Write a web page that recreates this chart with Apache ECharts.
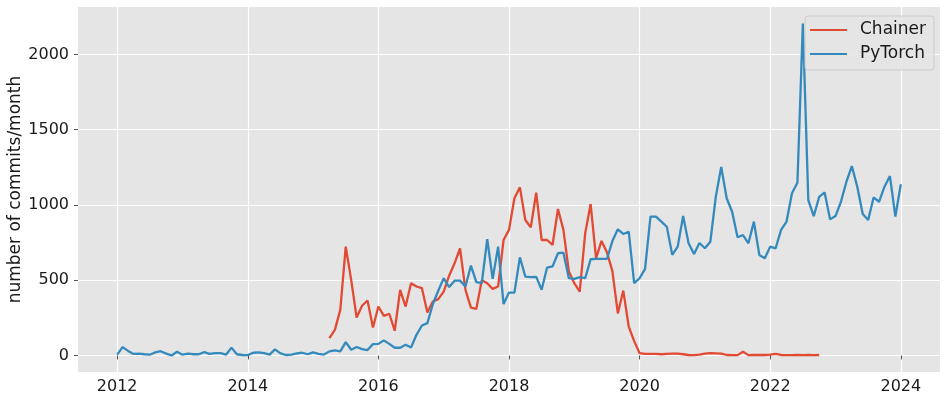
<!DOCTYPE html>
<html>
<head>
<meta charset="utf-8">
<script src="https://cdn.jsdelivr.net/npm/echarts@6/dist/echarts.min.js"></script>
<style>
  html, body { margin: 0; padding: 0; background: #ffffff; }
  #chart { width: 947px; height: 402px; }
</style>
</head>
<body>
<div id="chart"></div>
<script>
// ---- data (monthly commit counts) ----
const seriesNames = ['Chainer', 'PyTorch'];
const xTickLabels = [2012, 2014, 2016, 2018, 2020, 2022, 2024];
const yTickLabels = [0, 500, 1000, 1500, 2000];

const pytorchStart = '2012-01';
const pytorchValues = [
  5, 55, 30, 10, 12, 8, 5, 20, 28, 12, 0, 25,            // 2012
  5, 12, 8, 8, 22, 10, 15, 15, 5, 52, 8, 3,              // 2013
  2, 18, 20, 15, 5, 40, 14, 3, 5, 13, 18, 8,             // 2014
  20, 10, 6, 27, 33, 27, 89, 38, 56, 42, 36, 75,         // 2015
  77, 100, 77, 51, 51, 71, 53, 137, 199, 215, 340, 430,  // 2016
  513, 454, 497, 497, 458, 597, 487, 480, 772, 509, 723, 341, // 2017
  418, 418, 652, 524, 520, 522, 436, 584, 591, 679, 683, 513, // 2018
  509, 520, 513, 639, 641, 641, 641, 760, 838, 807, 822, 480, // 2019
  513, 575, 922, 922, 889, 855, 668, 723, 926, 745, 674, 747, // 2020
  712, 756, 1054, 1253, 1044, 955, 785, 800, 745, 889, 668, 646, // 2021
  723, 712, 834, 889, 1077, 1147, 2205, 1032, 926, 1054, 1083, 904, // 2022
  926, 1021, 1154, 1258, 1121, 940, 900, 1050, 1021, 1121, 1192, 922, // 2023
  1137                                                   // 2024
];

const chainerStart = '2015-04';
const chainerValues = [
  115, 170, 303, 723, 502, 252, 330, 365, 186,           // 2015 (Apr-Dec)
  325, 263, 277, 164, 436, 325, 480, 458, 447, 285, 358, 374, // 2016
  424, 530, 612, 712, 436, 318, 310, 500, 480, 442, 458, 767, // 2017
  834, 1044, 1117, 900, 851, 1081, 767, 767, 734, 973, 834, 557, // 2018
  480, 424, 811, 1006, 646, 761, 685, 560, 279, 431, 192, 95,  // 2019
  15, 10, 10, 10, 8, 10, 12, 12, 8, 3, 2, 5,             // 2020
  12, 15, 14, 12, 3, 2, 2, 25, 2, 3, 3, 3,               // 2021
  5, 10, 3, 2, 2, 3, 2, 3, 2, 3                          // 2022 (Jan-Oct)
];

// convert month index to decimal year position
function toPairs(start, values) {
  const [y, m] = start.split('-').map(Number);
  const base = y + (m - 1) / 12;
  return values.map((v, i) => [base + i / 12, v]);
}

const COLORS = { Chainer: '#E24A33', PyTorch: '#348ABD' };
const FONT = 'DejaVu Sans';
const TEXT = '#1a1a1a';

const chart = echarts.init(document.getElementById('chart'), null, { renderer: 'canvas' });

chart.setOption({
  animation: false,
  backgroundColor: '#ffffff',
  grid: {
    left: 78, right: 7, top: 7, bottom: 30,
    containLabel: false,
    outerBoundsMode: 'none',
    show: true, backgroundColor: '#E5E5E5', borderWidth: 0
  },
  legend: {
    orient: 'vertical',
    left: 805, top: 16,
    padding: [4, 8, 6, 5],
    itemGap: 4,
    itemWidth: 37,
    itemHeight: 2,
    icon: 'rect',
    backgroundColor: 'rgba(229,229,229,0.85)',
    borderColor: '#cccccc',
    borderWidth: 1,
    borderRadius: 3,
    data: seriesNames,
    textStyle: { fontFamily: FONT, fontSize: 17, color: TEXT, lineHeight: 20, padding: [0, 0, 0, 8] }
  },
  xAxis: {
    type: 'value',
    min: 2011.4, max: 2024.6,
    splitNumber: 6,
    axisLine: { show: false },
    axisTick: { show: true, length: 4, lineStyle: { color: '#555555' }, customValues: xTickLabels },
    axisLabel: {
      fontFamily: FONT, fontSize: 16, color: TEXT, margin: 7,
      customValues: xTickLabels,
      formatter: v => String(v)
    },
    splitLine: { show: true, lineStyle: { color: '#ffffff', width: 1.2 } }
  },
  yAxis: {
    type: 'value',
    min: -110, max: 2315,
    splitNumber: 5,
    name: 'number of commits/month',
    nameLocation: 'middle',
    nameRotate: 90,
    nameGap: 54,
    nameMoveOverlap: false,
    nameTextStyle: { fontFamily: FONT, fontSize: 17, color: TEXT },
    axisLine: { show: false },
    axisTick: { show: true, length: 4, lineStyle: { color: '#555555' }, customValues: yTickLabels },
    axisLabel: {
      fontFamily: FONT, fontSize: 16, color: TEXT, margin: 9,
      customValues: yTickLabels,
      formatter: v => String(v)
    },
    splitLine: { show: true, lineStyle: { color: '#ffffff', width: 1.2 } }
  },
  series: [
    {
      name: 'Chainer', type: 'line', showSymbol: false, symbol: 'none',
      data: toPairs(chainerStart, chainerValues),
      lineStyle: { color: COLORS.Chainer, width: 2.3 },
      itemStyle: { color: COLORS.Chainer },
      z: 2
    },
    {
      name: 'PyTorch', type: 'line', showSymbol: false, symbol: 'none',
      data: toPairs(pytorchStart, pytorchValues),
      lineStyle: { color: COLORS.PyTorch, width: 2.3 },
      itemStyle: { color: COLORS.PyTorch },
      z: 3
    }
  ]
});
</script>
</body>
</html>
